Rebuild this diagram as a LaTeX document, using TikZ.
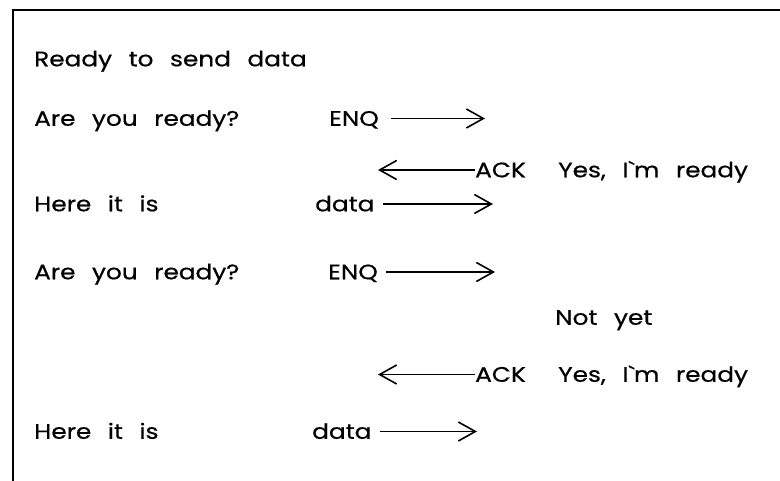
\documentclass[tikz,border=0pt]{standalone}
\usepackage{fontspec}
\setmainfont{Poppins}[FakeStretch=1.18, WordSpace=2.5, FakeBold=0.6]
\usetikzlibrary{arrows.meta}
\tikzset{
	msg/.style={anchor=west, inner sep=0pt, text height=14.6pt, text depth=0pt, font=\fontsize{21pt}{24pt}\selectfont},
	arr/.style={line width=1.6pt, -{Straight Barb[length=17pt, width=19pt]}},
}

\begin{document}
\begin{tikzpicture}[x=1pt, y=-1pt]
			%%%%% START %%%%%
			\useasboundingbox (0, 0) rectangle (780, 481);
			
			\draw[line width=1.6pt] (13, 481) -- (13, 10) -- (780, 10);
			
			\node[msg] (ready) at (34, 59) {Ready to send data};
			
			\node[msg] (askA) at (34, 118.5) {Are you ready?};
			\node[msg] (enqA) at (329, 118.5) {ENQ};
			\coordinate (enqAend) at (485, 118.5);
			\draw[arr, shorten <=12pt] (enqA.east) -- (enqAend);
			
			\node[msg] (ackA) at (475, 170) {ACK};
			\node[msg] (yesA) at (558, 170) {Yes, I\textasciigrave m ready};
			\coordinate (ackAend) at (378, 170);
			\draw[arr] (ackA.west) -- (ackAend);
			
			\node[msg] (hereA) at (34, 204) {Here it is};
			\node[msg] (dataA) at (315, 204) {data};
			\coordinate (dataAend) at (493, 204);
			\draw[arr, shorten <=8pt] (dataA.east) -- (dataAend);
			
			\node[msg] (askB) at (34, 272) {Are you ready?};
			\node[msg] (enqB) at (328, 272) {ENQ};
			\coordinate (enqBend) at (495, 272);
			\draw[arr, shorten <=8pt] (enqB.east) -- (enqBend);
			
			\node[msg] (notyet) at (555, 317.5) {Not yet};
			
			\node[msg] (ackB) at (475, 374.5) {ACK};
			\node[msg] (yesB) at (558, 374.5) {Yes, I\textasciigrave m ready};
			\coordinate (ackBend) at (378, 374.5);
			\draw[arr] (ackB.west) -- (ackBend);
			
			\node[msg] (hereB) at (34, 431.5) {Here it is};
			\node[msg] (dataB) at (312, 431.5) {data};
			\coordinate (dataBend) at (477, 431.5);
			\draw[arr, shorten <=8pt] (dataB.east) -- (dataBend);
			%%%%% END %%%%%
		\end{tikzpicture}
\end{document}
